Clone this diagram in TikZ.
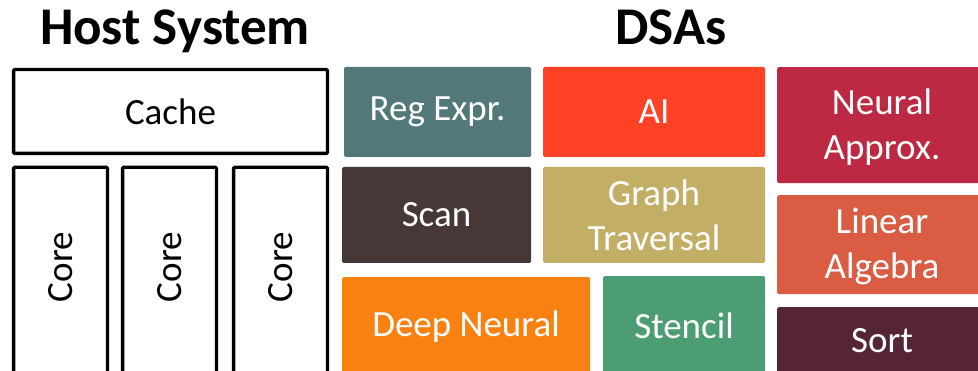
\documentclass[tikz,border=0pt]{standalone}
\usepackage{fontspec}
\setmainfont{Carlito}
\definecolor{cRegex}{HTML}{537879}
\definecolor{cAI}{HTML}{FF4125}
\definecolor{cScan}{HTML}{453837}
\definecolor{cGraph}{HTML}{C3AE65}
\definecolor{cDeep}{HTML}{F88112}
\definecolor{cStencil}{HTML}{4D9D74}
\definecolor{cNApprox}{HTML}{BD2842}
\definecolor{cLinAlg}{HTML}{D95C43}
\definecolor{cSort}{HTML}{552437}
\tikzset{
  title/.style={font=\fontsize{53}{57}\selectfont\bfseries, anchor=base, inner sep=0pt},
  hostbox/.style={draw=black, line width=3.3pt, fill=white, rounded corners=1pt, inner sep=0pt,
    font=\fontsize{37}{45}\selectfont},
  dsabox/.style={fill=#1, draw=none, rounded corners=1.5pt, inner sep=0pt, text=white,
    align=center, font=\fontsize{37}{45}\selectfont},
  dsalabel/.style={text=white, inner sep=0pt, align=center, font=\fontsize{37}{45}\selectfont},
  corelabel/.style={rotate=90, inner sep=0pt, font=\fontsize{37}{45}\selectfont}
}
\begin{document}
\begin{tikzpicture}[x=1pt, y=-1pt]
\useasboundingbox (0,0) rectangle (978,371);
\clip (0,0) rectangle (978,371);

% headings
\node[title] (host) at (175,45) {Host System};
\node[title] (dsas) at (671,45) {DSAs};

% host system: shared cache over three cores
\node[hostbox, minimum width=313.8pt, minimum height=83.8pt] (cache) at (170.5,111.5) {Cache};
\foreach \i/\cx in {1/60.5, 2/169.5, 3/280.5} {
  \node[hostbox, minimum width=93.8pt, minimum height=260pt, anchor=north] (core\i) at (\cx,165.6) {};
  \node[corelabel] (corelbl\i) at (\cx,267) {Core};
}

% accelerators, first column
\node[dsabox=cRegex, minimum width=187pt, minimum height=90pt] (regex) at (437.5,112) {Reg Expr.};
\node[dsabox=cScan, minimum width=189pt, minimum height=96pt] (scan) at (436.5,215) {Scan};
\node[dsabox=cDeep, minimum width=248pt, minimum height=120pt, anchor=north west] (deep) at (342,277) {};
\node[dsalabel] (deeplbl) at (466,327) {Deep Neural};

% accelerators, second column
\node[dsabox=cAI, minimum width=222pt, minimum height=90pt] (ai) at (654,112) {AI};
\node[dsabox=cGraph, minimum width=222pt, minimum height=96pt] (graph) at (654,215) {Graph\\Traversal};
\node[dsabox=cStencil, minimum width=162pt, minimum height=120pt, anchor=north west] (stencil) at (603,276) {};
\node[dsalabel] (stencillbl) at (684,326) {Stencil};

% accelerators, third column
\node[dsabox=cNApprox, minimum width=210pt, minimum height=116pt, anchor=north west] (napprox) at (777,67) {};
\node[dsalabel] (napproxlbl) at (882,127) {Neural\\Approx.};
\node[dsabox=cLinAlg, minimum width=210pt, minimum height=99pt, anchor=north west] (linalg) at (777,195) {};
\node[dsalabel] (linalglbl) at (882,246) {Linear\\Algebra};
\node[dsabox=cSort, minimum width=210pt, minimum height=120pt, anchor=north west] (sort) at (777,307) {};
\node[dsalabel] (sortlbl) at (882,341) {Sort};
\end{tikzpicture}
\end{document}
